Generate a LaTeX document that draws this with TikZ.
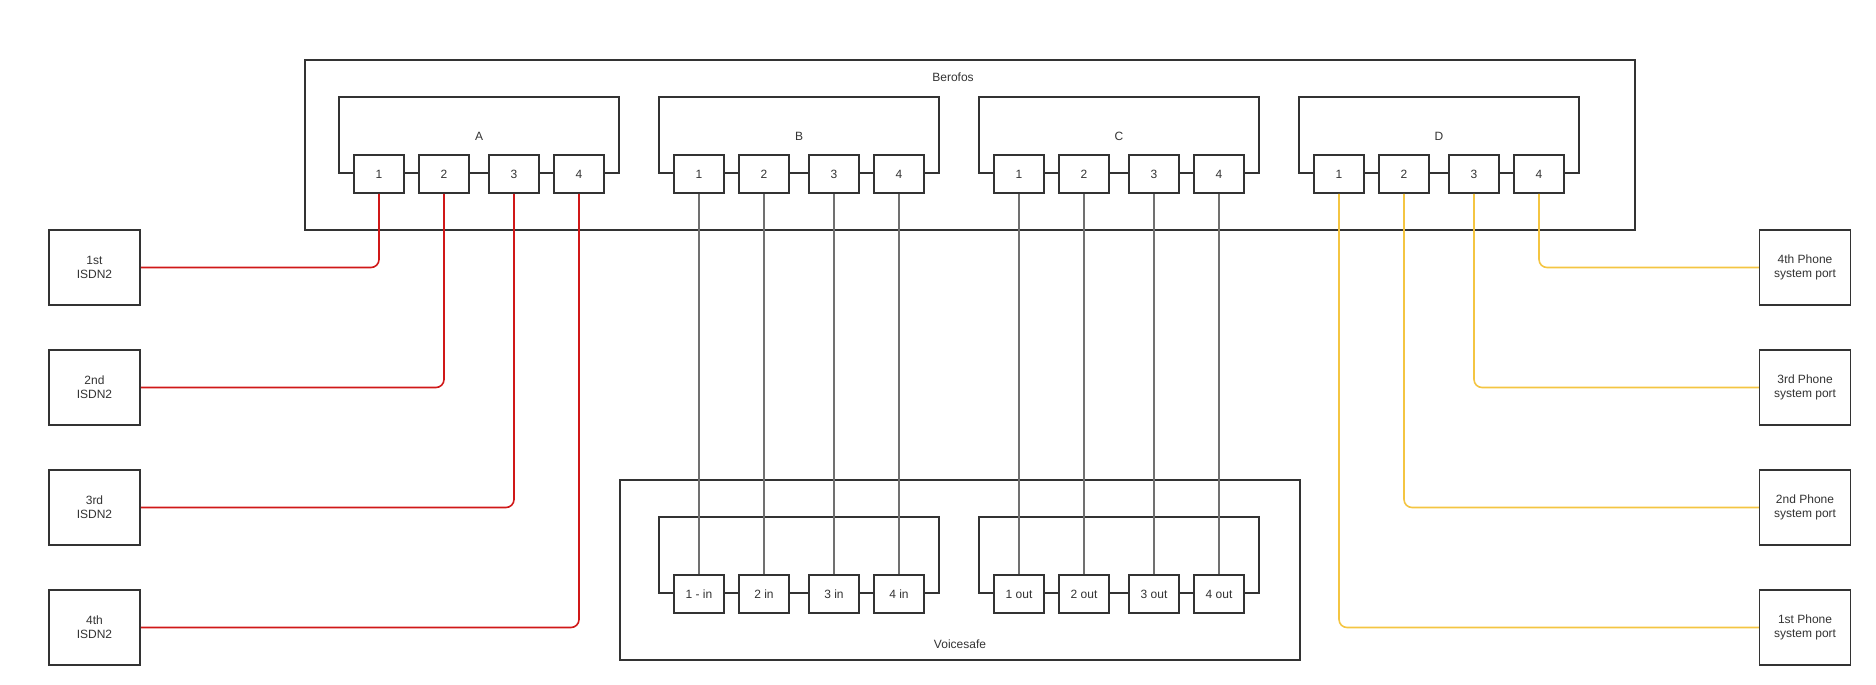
\documentclass[tikz,border=0pt]{standalone}
\usepackage{fontspec}
\setmainfont{Liberation Sans}
\definecolor{edge}{HTML}{333333}
\definecolor{redline}{HTML}{D01818}
\definecolor{yelline}{HTML}{F4C542}
\definecolor{grayline}{HTML}{707070}
\begin{document}
\begin{tikzpicture}[x=1pt,y=-1pt,
  every node/.style={font=\fontsize{12}{14}\selectfont, text=edge},
  container/.style={draw=edge, line width=1.5pt},
  grp/.style={draw=edge, line width=1.5pt},
  port/.style={draw=edge, line width=1.5pt, fill=white, minimum width=50pt, minimum height=38pt, inner sep=0pt},
  endbox/.style={draw=edge, line width=1.5pt, fill=white, minimum width=91pt, minimum height=75pt, inner sep=0pt, align=center},
  lbl/.style={inner sep=0pt},
  redc/.style={draw=redline, line width=1.6pt, rounded corners=8pt},
  yelc/.style={draw=yelline, line width=1.6pt, rounded corners=8pt},
  grayc/.style={draw=grayline, line width=1.6pt}]
\useasboundingbox (0,0) rectangle (1876,685);

% Containers
\draw[container] (305,60) rectangle (1635,230);
\node[lbl] (berofos) at (953,77) {Berofos};
\draw[container] (620,480) rectangle (1300,660);
\node[lbl] (voicesafe) at (960,644) {Voicesafe};

% Berofos groups
\foreach \g/\L in {A/339,B/659,C/979,D/1299}{
  \draw[grp] (\L,173) -- (\L,97) -- (\L+280,97) -- (\L+280,173) -- cycle;
  \node[lbl] (lbl\g) at (\L+140,136) {\g};
}
% Voicesafe groups
\draw[grp] (659,593) -- (659,517) -- (939,517) -- (939,593) -- cycle;
\draw[grp] (979,593) -- (979,517) -- (1259,517) -- (1259,593) -- cycle;

% Berofos ports
\foreach \g/\L in {A/339,B/659,C/979,D/1299}{
  \node[port] (\g1) at (\L+40,174) {1};
  \node[port] (\g2) at (\L+105,174) {2};
  \node[port] (\g3) at (\L+175,174) {3};
  \node[port] (\g4) at (\L+240,174) {4};
}
% Voicesafe ports
\node[port] (in1) at (699,594) {1 - in};
\node[port] (in2) at (764,594) {2 in};
\node[port] (in3) at (834,594) {3 in};
\node[port] (in4) at (899,594) {4 in};
\node[port] (out1) at (1019,594) {1 out};
\node[port] (out2) at (1084,594) {2 out};
\node[port] (out3) at (1154,594) {3 out};
\node[port] (out4) at (1219,594) {4 out};

% Left boxes
\node[endbox] (isdn1) at (94.5,267.5) {1st\\ISDN2};
\node[endbox] (isdn2) at (94.5,387.5) {2nd\\ISDN2};
\node[endbox] (isdn3) at (94.5,507.5) {3rd\\ISDN2};
\node[endbox] (isdn4) at (94.5,627.5) {4th\\ISDN2};
% Right boxes
\node[endbox] (ph4) at (1805,267.5) {4th Phone\\system port};
\node[endbox] (ph3) at (1805,387.5) {3rd Phone\\system port};
\node[endbox] (ph2) at (1805,507.5) {2nd Phone\\system port};
\node[endbox] (ph1) at (1805,627.5) {1st Phone\\system port};

% Red connectors
\draw[redc] (isdn1.east) -| (A1.south);
\draw[redc] (isdn2.east) -| (A2.south);
\draw[redc] (isdn3.east) -| (A3.south);
\draw[redc] (isdn4.east) -| (A4.south);
% Yellow connectors
\draw[yelc] (ph4.west) -| (D4.south);
\draw[yelc] (ph3.west) -| (D3.south);
\draw[yelc] (ph2.west) -| (D2.south);
\draw[yelc] (ph1.west) -| (D1.south);
% Gray connectors
\draw[grayc] (B1.south) -- (in1.north);
\draw[grayc] (B2.south) -- (in2.north);
\draw[grayc] (B3.south) -- (in3.north);
\draw[grayc] (B4.south) -- (in4.north);
\draw[grayc] (C1.south) -- (out1.north);
\draw[grayc] (C2.south) -- (out2.north);
\draw[grayc] (C3.south) -- (out3.north);
\draw[grayc] (C4.south) -- (out4.north);
\end{tikzpicture}
\end{document}
